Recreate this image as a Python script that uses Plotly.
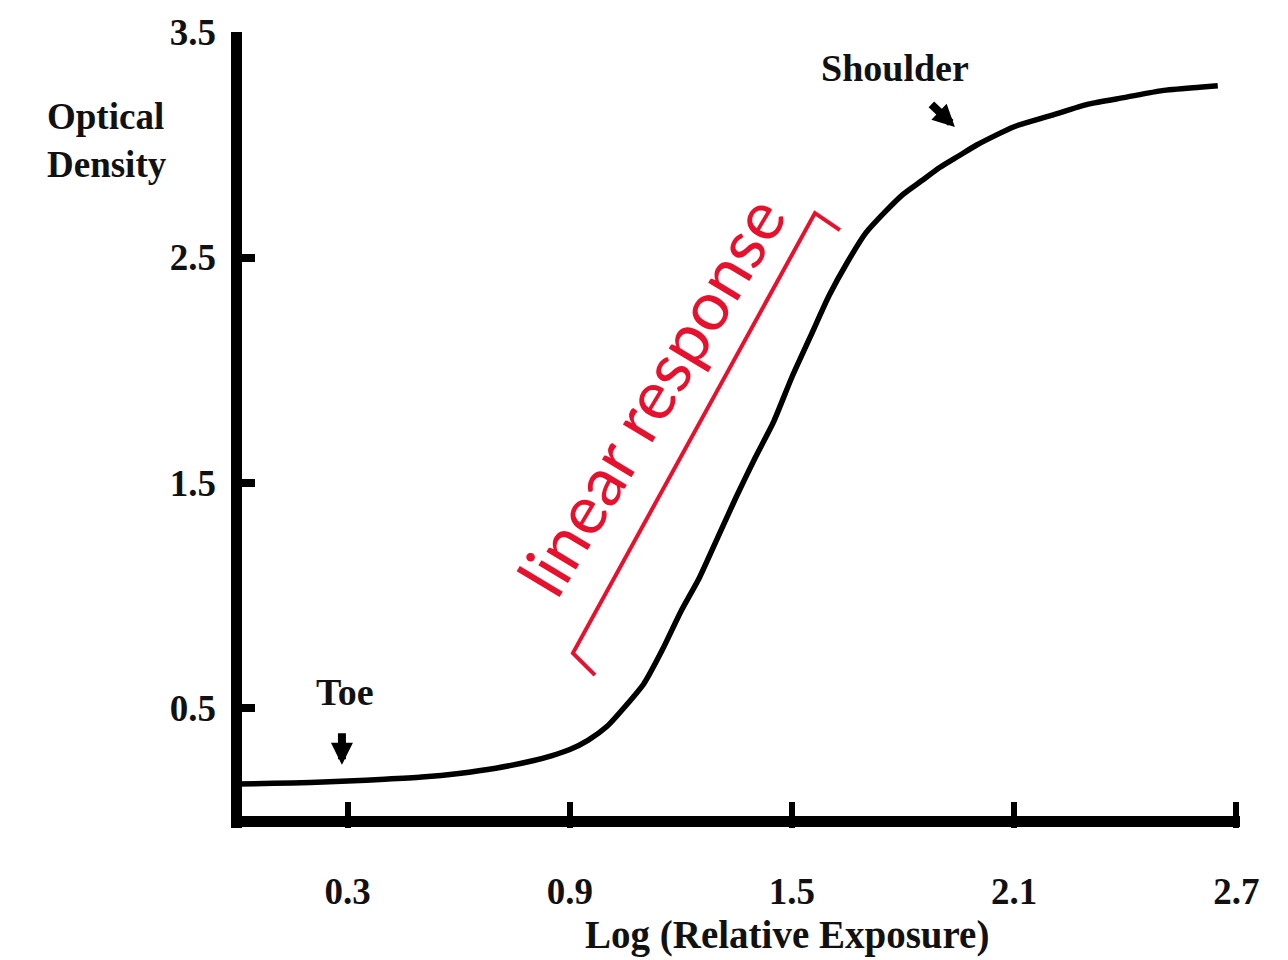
import plotly.graph_objects as go

# Characteristic (H&D) curve
log_exposure = [0.00, 0.10, 0.20, 0.30, 0.40, 0.50, 0.60, 0.70, 0.80, 0.85, 0.90, 0.95,
                1.00, 1.05, 1.10, 1.15, 1.20, 1.25, 1.30, 1.35, 1.40, 1.45, 1.50, 1.55,
                1.60, 1.65, 1.70, 1.75, 1.80, 1.85, 1.90, 1.95, 2.00, 2.10, 2.20, 2.30,
                2.40, 2.50, 2.60, 2.65]
optical_density = [0.165, 0.168, 0.172, 0.178, 0.186, 0.196, 0.212, 0.235, 0.268, 0.29, 0.318, 0.36,
                   0.42, 0.51, 0.61, 0.76, 0.93, 1.08, 1.26, 1.44, 1.61, 1.77, 1.97, 2.15,
                   2.33, 2.48, 2.61, 2.70, 2.78, 2.84, 2.90, 2.95, 3.00, 3.08, 3.13, 3.18,
                   3.21, 3.24, 3.255, 3.262]

x_ticks = [0.3, 0.9, 1.5, 2.1, 2.7]
x_tick_labels = ["0.3", "0.9", "1.5", "2.1", "2.7"]
y_ticks = [0.5, 1.5, 2.5, 3.5]
y_tick_labels = ["0.5", "1.5", "2.5", "3.5"]

SERIF = "Liberation Serif"
RED = "#E8112D"
INK = "#111111"

fig = go.Figure()
fig.add_trace(go.Scatter(
    x=log_exposure, y=optical_density, mode="lines",
    line=dict(color="black", width=5.5, shape="spline", smoothing=0.6),
    showlegend=False, hoverinfo="skip",
))

tickfont = dict(family=SERIF, size=37, color=INK, weight="bold")

fig.update_layout(
    width=1288, height=960,
    margin=dict(l=231, r=48, t=32, b=132),
    paper_bgcolor="white", plot_bgcolor="white",
    showlegend=False,
    xaxis=dict(
        range=[-0.015, 2.71], tickvals=x_ticks, ticktext=x_tick_labels,
        ticks="inside", ticklen=26, tickwidth=6, tickcolor="black",
        showgrid=False, showline=False,
        zeroline=True, zerolinecolor="black", zerolinewidth=11,
        tickfont=tickfont, ticklabelstandoff=38,
    ),
    yaxis=dict(
        range=[-0.03, 3.5], tickvals=y_ticks, ticktext=y_tick_labels,
        ticks="inside", ticklen=24, tickwidth=8, tickcolor="black",
        showgrid=False, showline=False,
        zeroline=True, zerolinecolor="black", zerolinewidth=11,
        tickfont=tickfont, ticklabelstandoff=14,
    ),
)

# red bracket marking the linear part
fig.add_shape(
    type="path", xref="x", yref="y",
    path="M 0.9679 0.6483 L 0.9084 0.7459 L 1.5620 2.6971 L 1.6295 2.6217",
    line=dict(color=RED, width=4),
)

annots = [
    dict(text="Optical<br>Density", xref="paper", yref="paper", x=-0.1843, y=0.8643,
         xanchor="left", yanchor="middle", align="left", showarrow=False,
         font=dict(family=SERIF, size=37, color=INK, weight="bold")),
    dict(text="Log (Relative Exposure)", xref="paper", yref="paper", x=0.551, y=-0.135,
         xanchor="center", yanchor="middle", showarrow=False,
         font=dict(family=SERIF, size=39, color=INK, weight="bold")),
    dict(text="Toe", xref="x", yref="y", x=0.2927, y=0.573, showarrow=False,
         font=dict(family=SERIF, size=38, color=INK, weight="bold")),
    dict(text="Shoulder", xref="x", yref="y", x=1.778, y=3.34, showarrow=False,
         font=dict(family=SERIF, size=38, color=INK, weight="bold")),
    dict(text="linear response", xref="x", yref="y", x=1.115, y=1.89, showarrow=False,
         textangle=-59, font=dict(family="Lato", size=68, color=RED)),
    dict(text="", xref="x", yref="y", x=0.2846, y=0.25, ax=0, ay=-33,
         showarrow=True, arrowhead=2, arrowsize=0.55, arrowwidth=8, arrowcolor="black"),
    dict(text="", xref="x", yref="y", x=1.940, y=3.079, ax=-25, ay=-24,
         showarrow=True, arrowhead=2, arrowsize=0.55, arrowwidth=8, arrowcolor="black"),
]
for a in annots:
    fig.add_annotation(**a)

fig.write_html("out.html", config={"displayModeBar": False},
               post_script="document.body.style.margin='0';")
